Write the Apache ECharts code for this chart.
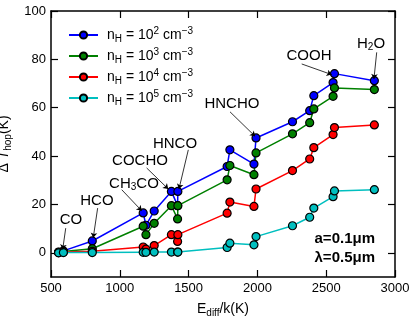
<!DOCTYPE html>
<html><head><meta charset="utf-8">
<script src="https://cdn.jsdelivr.net/npm/echarts@6/dist/echarts.min.js"></script>
<style>html,body{margin:0;padding:0;background:#fff}#c{width:416px;height:318px}</style>
</head><body><div id="c"></div>
<script>
const ediff = [555, 590, 800, 1170, 1190, 1250, 1375, 1420, 1422, 1780, 1800, 1975, 1990, 2255, 2380, 2410, 2550, 2560, 2850];
const dT_n2 = [0.3, 0.8, 4.9, 16.5, 11.4, 17.3, 25.4, 19.5, 25.4, 35.7, 42.6, 36.7, 47.5, 54.2, 58.8, 65.0, 70.4, 74.1, 71.2];
const dT_n3 = [0.2, 0.5, 1.7, 11.0, 7.5, 12.2, 19.5, 14.0, 19.5, 30.2, 36.1, 32.3, 41.3, 49.2, 53.8, 59.5, 64.7, 68.2, 67.5];
const dT_n4 = [0.1, 0.3, 0.6, 2.4, 1.5, 3.0, 7.5, 4.7, 7.5, 16.4, 21.0, 19.2, 26.4, 34.0, 38.8, 43.5, 48.9, 51.8, 52.9];
const dT_n5 = [0.0, 0.1, 0.1, 0.2, 0.2, 0.3, 0.3, 0.3, 0.3, 2.2, 4.0, 3.3, 6.7, 11.2, 14.7, 18.5, 23.2, 25.6, 26.1];
const densityExp = ['2', '3', '4', '5'];
const colors = ['#0000ff', '#008000', '#ff0000', '#00bfbf'];
const xTicks = [500, 1000, 1500, 2000, 2500, 3000];
const yTicks = [0, 20, 40, 60, 80, 100];
const annotText = ['CO', 'HCO', 'CH{sub|3}CO', 'COCHO', 'HNCO', 'HNCHO', 'COOH', 'H{sub|2}O'];
const annotPos = [[645, 13.7], [834, 21.5], [1103, 28.6], [1147, 38.1], [1401, 45.1], [1815, 61.7], [2375, 81.6], [2826, 86.5]];
const arrowFrom = [[607, 10.2], [839, 18.5], [1014, 26.1], [1195, 35.1], [1498, 42.6], [1801, 58.3], [2322, 78.1], [2867, 82.9]];
const arrowTo = [[585, 1.4], [807, 6.2], [1159, 17.4], [1352, 26.4], [1430, 26.4], [1983, 48.2], [2540, 73.7], [2847, 71.9]];

const FF = '"Liberation Sans", Arial, Helvetica, sans-serif';
const allY = [dT_n2, dT_n3, dT_n4, dT_n5];
const names = densityExp.map(e => 'n' + e);

const chart = echarts.init(document.getElementById('c'));
const lineSeries = allY.map((ys, i) => ({
  name: names[i],
  type: 'line',
  data: ediff.map((x, j) => [x, ys[j]]),
  symbol: 'circle',
  symbolSize: 8,
  showSymbol: true,
  color: colors[i],
  lineStyle: { color: colors[i], width: 1.5 },
  itemStyle: { color: colors[i], borderColor: '#000', borderWidth: 1.2 },
  emphasis: { disabled: true },
  animation: false,
  z: 3
}));

const richBase = {
  m: { fontSize: 14, fontFamily: FF, color: '#000', lineHeight: 18, verticalAlign: 'middle' },
  sub: { fontSize: 10, fontFamily: FF, color: '#000', lineHeight: 10, verticalAlign: 'bottom' },
  sup: { fontSize: 10, fontFamily: FF, color: '#000', lineHeight: 10, verticalAlign: 'top' },
  it: { fontSize: 14, fontFamily: FF, color: '#000', fontStyle: 'italic', lineHeight: 18, verticalAlign: 'middle' }
};

chart.setOption({
  animation: false,
  grid: { left: 51, right: 21, top: 11, bottom: 41, containLabel: false, outerBoundsMode: 'none' },
  legend: {
    data: names,
    orient: 'vertical',
    left: 63,
    top: 21,
    itemWidth: 29,
    itemHeight: 9,
    itemGap: 3,
    formatter: function (n) {
      const e = densityExp[names.indexOf(n)];
      return '{m|n}{sub|H}{m| = 10}{sup|' + e + '}{m| cm}{sup|\u22123}';
    },
    textStyle: { fontSize: 14, fontFamily: FF, color: '#000', padding: [0, 0, 0, 4], rich: richBase }
  },
  xAxis: [{
    type: 'value', min: 500, max: 3000, interval: 500, position: 'bottom',
    name: '{m|E}{sub|diff}{m|/k(K)}', nameLocation: 'middle', nameGap: 23,
    nameTextStyle: { fontSize: 14, fontFamily: FF, color: '#000', rich: richBase },
    axisLine: { show: true, onZero: false, lineStyle: { color: '#000', width: 1.5 } },
    axisTick: { show: true, inside: true, length: 7, lineStyle: { color: '#000', width: 1.2 } },
    axisLabel: { color: '#000', fontSize: 13, fontFamily: FF, margin: 5, showMinLabel: true, showMaxLabel: true, formatter: v => String(v) },
    splitLine: { show: false }
  }, {
    type: 'value', min: 500, max: 3000, interval: 500, position: 'top',
    axisLine: { show: true, onZero: false, lineStyle: { color: '#000', width: 1.5 } },
    axisTick: { show: true, inside: true, length: 7, lineStyle: { color: '#000', width: 1.2 } },
    axisLabel: { show: false }, splitLine: { show: false }
  }],
  yAxis: [{
    type: 'value', min: -10, max: 100, position: 'left',
    name: '{m|\u0394 }{it|T}{sub|hop}{m|(K)}', nameLocation: 'middle', nameGap: 38, nameRotate: 90,
    nameTextStyle: { fontSize: 14, fontFamily: FF, color: '#000', rich: richBase },
    axisLine: { show: true, onZero: false, lineStyle: { color: '#000', width: 1.5 } },
    axisTick: { show: true, inside: true, length: 7, customValues: yTicks, lineStyle: { color: '#000', width: 1.2 } },
    axisLabel: { color: '#000', fontSize: 13, fontFamily: FF, margin: 5, customValues: yTicks, formatter: v => String(v) },
    splitLine: { show: false }
  }, {
    type: 'value', min: -10, max: 100, position: 'right',
    axisLine: { show: true, onZero: false, lineStyle: { color: '#000', width: 1.5 } },
    axisTick: { show: true, inside: true, length: 7, customValues: yTicks, lineStyle: { color: '#000', width: 1.2 } },
    axisLabel: { show: false, customValues: yTicks }, splitLine: { show: false }
  }],
  series: lineSeries.concat([
    {
      type: 'lines', coordinateSystem: 'cartesian2d', silent: true, z: 5,
      data: arrowFrom.map((f, i) => ({ coords: [f, arrowTo[i]] })),
      symbol: ['none', 'arrow'], symbolSize: 5,
      lineStyle: { color: '#000', width: 0.8, opacity: 1, curveness: 0 },
      animation: false
    },
    {
      type: 'scatter', silent: true, z: 6,
      data: annotPos.map((p, i) => [p[0], p[1], i]),
      symbolSize: 2,
      itemStyle: { color: 'rgba(0,0,0,0)' },
      label: {
        show: true, position: 'inside', color: '#000', opacity: 1,
        textBorderWidth: 0, textBorderColor: 'transparent',
        formatter: p => '{a|' + annotText[p.value[2]].replace(/\{sub\|(\w)\}/g, '}{s|$1}{a|') + '}',
        rich: {
          a: { fontSize: 15, fontFamily: FF, color: '#000', lineHeight: 18, textBorderWidth: 0 },
          s: { fontSize: 10, fontFamily: FF, color: '#000', lineHeight: 10, verticalAlign: 'bottom', textBorderWidth: 0 }
        }
      },
      labelLayout: { hideOverlap: false },
      animation: false
    }
  ]),
  graphic: [
    { type: 'text', right: 41, top: 231, style: { text: 'a=0.1\u03bcm', font: 'bold 15px ' + FF, fill: '#000' } },
    { type: 'text', right: 41, top: 250, style: { text: '\u03bb=0.5\u03bcm', font: 'bold 15px ' + FF, fill: '#000' } }
  ]
});
</script></body></html>
